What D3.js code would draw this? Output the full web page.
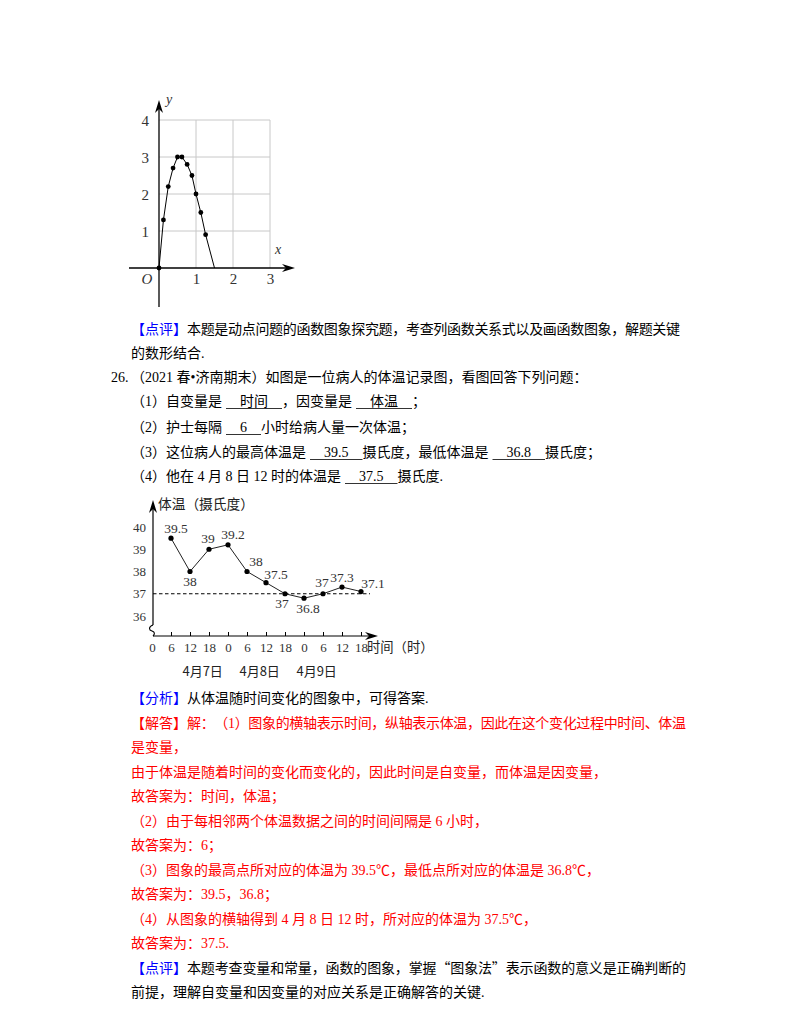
<!DOCTYPE html>
<html>
<head>
<meta charset="utf-8">
<script src="https://cdn.jsdelivr.net/npm/d3@7"></script>
<style>
  body { margin: 0; background: #fff; }
  svg { display: block; }
  svg text { text-spacing-trim: space-all; font-kerning: none; }
</style>
</head>
<body>
<script>
// chart 1: points of the drawn curve (x, y)
const curveX = [0, 0.12, 0.25, 0.38, 0.5, 0.62, 0.76, 0.89, 1, 1.13, 1.26, 1.5];
const curveY = [0, 1.3, 2.2, 2.7, 3, 3, 2.8, 2.5, 2, 1.5, 0.9, 0];
const curveDots = 11; // last point has no dot
const c1xTicks = [1, 2, 3];
const c1yTicks = [1, 2, 3, 4];

// chart 2: temperature record (hours since 4/7 0:00)
const tempHours = [6, 12, 18, 24, 30, 36, 42, 48, 54, 60, 66];
const tempValues = [39.5, 38, 39, 39.2, 38, 37.5, 37, 36.8, 37, 37.3, 37.1];
const tempLabels = ["39.5", "38", "39", "39.2", "38", "37.5", "37", "36.8", "37", "37.3", "37.1"];
const hourTicks = [0, 6, 12, 18, 24, 30, 36, 42, 48, 54, 60, 66];
const tempTicks = [36, 37, 38, 39, 40];
const dateLabels = ["4月7日", "4月8日", "4月9日"];
const dateHours = [16, 34, 52];
const refTemp = 37;

// label offsets from each point (layout only)
const labelDx = [5, 0, -1, 5, 9, 10, -3, 4, -1, 0, 12];
const labelDy = [-10, 10, -11, -10, -10, -8, 10, 10, -11, -10, -8];

const W = 800, H = 1035;
const serif = "'Liberation Serif','Noto Sans CJK SC',serif";
const sans = "'Noto Sans CJK SC','Noto Sans',sans-serif";
const BLUE = "#0000ff", RED = "#ff0000", INK = "#000";

const svg = d3.select("body").append("svg")
  .attr("width", W).attr("height", H);
svg.append("rect").attr("width", W).attr("height", H).attr("fill", "#fff");

function arrow(g, x, y, dir) {
  // stealth-style arrow head, tip at (x,y)
  let p;
  if (dir === "right") p = [[x, y], [x - 13, y - 4], [x - 9, y], [x - 13, y + 4]];
  else p = [[x, y], [x - 4, y + 13], [x, y + 9], [x + 4, y + 13]];
  g.append("path").attr("d", "M" + p.join("L") + "Z").attr("fill", "#000");
}

// ===== chart 1 =====
const x1 = d3.scaleLinear().domain([0, 3]).range([159, 270]);
const y1 = d3.scaleLinear().domain([0, 4]).range([268, 120]);
const g1 = svg.append("g");

g1.selectAll(".vgrid").data(c1xTicks).enter().append("line")
  .attr("x1", d => x1(d)).attr("x2", d => x1(d))
  .attr("y1", y1(0)).attr("y2", y1(4))
  .attr("stroke", "#c8c8c8").attr("stroke-width", 1);
g1.selectAll(".hgrid").data(c1yTicks).enter().append("line")
  .attr("x1", x1(0)).attr("x2", x1(3))
  .attr("y1", d => y1(d)).attr("y2", d => y1(d))
  .attr("stroke", "#c8c8c8").attr("stroke-width", 1);

g1.append("line").attr("x1", 129).attr("x2", 290).attr("y1", y1(0)).attr("y2", y1(0))
  .attr("stroke", "#000").attr("stroke-width", 1.3);
g1.append("line").attr("x1", x1(0)).attr("x2", x1(0)).attr("y1", 307).attr("y2", 105)
  .attr("stroke", "#000").attr("stroke-width", 1.3);
arrow(g1, 295, y1(0), "right");
arrow(g1, x1(0), 100, "up");

const ax1 = g1.append("g").attr("transform", "translate(0," + y1(0) + ")")
  .call(d3.axisBottom(x1).tickValues(c1xTicks).tickSize(0).tickPadding(5.5).tickFormat(d3.format("d")));
const ay1 = g1.append("g").attr("transform", "translate(" + x1(0) + ",0)")
  .call(d3.axisLeft(y1).tickValues(c1yTicks).tickSize(0).tickPadding(10).tickFormat(d3.format("d")));
[ax1, ay1].forEach(a => {
  a.select(".domain").remove();
  a.selectAll("text").attr("font-family", serif).attr("font-size", 15).attr("fill", "#333");
});
ay1.selectAll("text").attr("dy", "0.38em");

g1.append("text").attr("x", 147).attr("y", 284).attr("text-anchor", "middle")
  .attr("font-family", serif).attr("font-style", "italic").attr("font-size", 15).attr("fill", "#333").text("O");
g1.append("text").attr("x", 278).attr("y", 254).attr("text-anchor", "middle")
  .attr("font-family", serif).attr("font-style", "italic").attr("font-size", 14).attr("fill", "#333").text("x");
g1.append("text").attr("x", 169).attr("y", 104).attr("text-anchor", "middle")
  .attr("font-family", serif).attr("font-style", "italic").attr("font-size", 14).attr("fill", "#333").text("y");

const curve = curveX.map((d, i) => [d, curveY[i]]);
g1.append("path").datum(curve)
  .attr("d", d3.line().x(d => x1(d[0])).y(d => y1(d[1])))
  .attr("fill", "none").attr("stroke", "#000").attr("stroke-width", 1);
g1.selectAll(".dot").data(curve.slice(0, curveDots)).enter().append("circle")
  .attr("cx", d => x1(d[0])).attr("cy", d => y1(d[1])).attr("r", 2.4).attr("fill", "#000");

// ===== text =====
const tg = svg.append("g").attr("font-family", serif).attr("font-size", 14);

function para(cy, x0, segs, endX) {
  const base = cy + 5;
  let x = x0;
  segs.forEach((s, k) => {
    if (s.b !== undefined) {
      x += 4;
      const start = x;
      x += 14;
      const t = tg.append("text").attr("x", x).attr("y", base).attr("fill", INK).text(s.b);
      x += t.node().getComputedTextLength() + 14;
      tg.append("line").attr("x1", start).attr("x2", x)
        .attr("y1", base + 2.5).attr("y2", base + 2.5).attr("stroke", "#000").attr("stroke-width", 0.8);
      return;
    }
    const t = tg.append("text").attr("x", x).attr("y", base).attr("fill", s.c || INK);
    // split curly quotes out so they take full CJK width
    s.t.split(/([“”])/).forEach(part => {
      if (!part) return;
      const sp = t.append("tspan").text(part);
      if (part === "“" || part === "”") sp.attr("font-family", sans);
    });
    if (endX && k === segs.length - 1) {
      t.attr("textLength", endX - x).attr("lengthAdjust", "spacing");
      x = endX;
    } else {
      x += t.node().getComputedTextLength();
    }
  });
}

para(329, 131, [{ t: "【点评】", c: BLUE }, { t: "本题是动点问题的函数图象探究题，考查列函数关系式以及画函数图象，解题关键" }], 680);
para(353, 131, [{ t: "的数形结合." }]);
para(377, 111, [{ t: "26." }]);
para(377, 131, [{ t: "（2021 春•济南期末）如图是一位病人的体温记录图，看图回答下列问题：" }]);
para(401, 131, [{ t: "（1）自变量是" }, { b: "时间" }, { t: "，因变量是" }, { b: "体温" }, { t: "；" }]);
para(427, 131, [{ t: "（2）护士每隔" }, { b: "6" }, { t: "小时给病人量一次体温；" }]);
para(452, 131, [{ t: "（3）这位病人的最高体温是" }, { b: "39.5" }, { t: "摄氏度，最低体温是" }, { b: "36.8" }, { t: "摄氏度；" }]);
para(476, 131, [{ t: "（4）他在 4 月 8 日 12 时的体温是" }, { b: "37.5" }, { t: "摄氏度." }]);

const low = [
  [[{ t: "【分析】", c: BLUE }, { t: "从体温随时间变化的图象中，可得答案." }]],
  [[{ t: "【解答】", c: RED }, { t: "解：（1）图象的横轴表示时间，纵轴表示体温，因此在这个变化过程中时间、体温", c: RED }], 686],
  [[{ t: "是变量，", c: RED }]],
  [[{ t: "由于体温是随着时间的变化而变化的，因此时间是自变量，而体温是因变量，", c: RED }]],
  [[{ t: "故答案为：时间，体温；", c: RED }]],
  [[{ t: "（2）由于每相邻两个体温数据之间的时间间隔是 6 小时，", c: RED }]],
  [[{ t: "故答案为：6；", c: RED }]],
  [[{ t: "（3）图象的最高点所对应的体温为 39.5℃，最低点所对应的体温是 36.8℃，", c: RED }]],
  [[{ t: "故答案为：39.5，36.8；", c: RED }]],
  [[{ t: "（4）从图象的横轴得到 4 月 8 日 12 时，所对应的体温为 37.5℃，", c: RED }]],
  [[{ t: "故答案为：37.5.", c: RED }]],
  [[{ t: "【点评】", c: BLUE }, { t: "本题考查变量和常量，函数的图象，掌握“图象法”表示函数的意义是正确判断的" }], 686],
  [[{ t: "前提，理解自变量和因变量的对应关系是正确解答的关键." }]]
];
low.forEach((l, i) => para(698 + i * 24.5, 131, l[0], l[1]));

// ===== chart 2 =====
const x2 = d3.scaleLinear().domain([0, 66]).range([152, 361]);
const y2 = d3.scaleLinear().domain([36, 40]).range([616, 527]);
const axisY = 636, axisX = 153;
const g2 = svg.append("g");

g2.append("line").attr("x1", axisX).attr("x2", 372).attr("y1", axisY).attr("y2", axisY)
  .attr("stroke", "#000").attr("stroke-width", 1.2);
arrow(g2, 378, axisY, "right");
g2.append("line").attr("x1", axisX).attr("x2", axisX).attr("y1", 625).attr("y2", 505)
  .attr("stroke", "#000").attr("stroke-width", 1.2);
arrow(g2, axisX, 500, "up");
// axis break squiggle
g2.append("path").attr("d", "M153,625 C148,627 149,630 152,631 C155,632 155,634 153,636")
  .attr("fill", "none").attr("stroke", "#000").attr("stroke-width", 1.1);

const ax2 = g2.append("g").attr("transform", "translate(0," + axisY + ")")
  .call(d3.axisBottom(x2).tickValues(hourTicks).tickSizeInner(-4).tickSizeOuter(0)
    .tickPadding(6.5).tickFormat(d => d % 24));
ax2.select(".domain").remove();
ax2.selectAll(".tick line").attr("stroke", "#000").filter(d => d === 0).remove();
ax2.selectAll("text").attr("font-family", serif).attr("font-size", 13).attr("fill", "#333");

const ay2 = g2.append("g").attr("transform", "translate(" + axisX + ",0)")
  .call(d3.axisLeft(y2).tickValues(tempTicks).tickSize(0).tickPadding(7).tickFormat(d3.format("d")));
ay2.select(".domain").remove();
ay2.selectAll("text").attr("font-family", serif).attr("font-size", 13).attr("fill", "#333");

g2.append("line").attr("x1", axisX).attr("x2", 370).attr("y1", y2(refTemp)).attr("y2", y2(refTemp))
  .attr("stroke", "#000").attr("stroke-width", 1).attr("stroke-dasharray", "3.5,2.5");

const pts = tempHours.map((h, i) => ({ h: h, v: tempValues[i], lab: tempLabels[i], dx: labelDx[i], dy: labelDy[i] }));
g2.append("path").datum(pts)
  .attr("d", d3.line().x(d => x2(d.h)).y(d => y2(d.v)))
  .attr("fill", "none").attr("stroke", "#222").attr("stroke-width", 1);
g2.selectAll(".pt").data(pts).enter().append("circle")
  .attr("cx", d => x2(d.h)).attr("cy", d => y2(d.v)).attr("r", 2.6).attr("fill", "#000");
g2.selectAll(".vlab").data(pts).enter().append("text")
  .attr("x", d => x2(d.h) + d.dx).attr("y", d => y2(d.v) + d.dy + 4.5)
  .attr("text-anchor", "middle").attr("font-family", serif).attr("font-size", 13.5).attr("fill", "#333")
  .text(d => d.lab);

g2.append("text").attr("x", 158).attr("y", 509).attr("font-family", sans).attr("font-size", 13.7)
  .attr("fill", "#222").text("体温（摄氏度）");
g2.append("text").attr("x", 367).attr("y", 652).attr("font-family", sans).attr("font-size", 13.3)
  .attr("fill", "#222").text("时间（时）");
g2.selectAll(".date").data(dateLabels).enter().append("text")
  .attr("x", (d, i) => x2(dateHours[i])).attr("y", 676).attr("text-anchor", "middle")
  .attr("font-family", sans).attr("font-size", 13).attr("fill", "#222").text(d => d);
</script>
</body>
</html>
